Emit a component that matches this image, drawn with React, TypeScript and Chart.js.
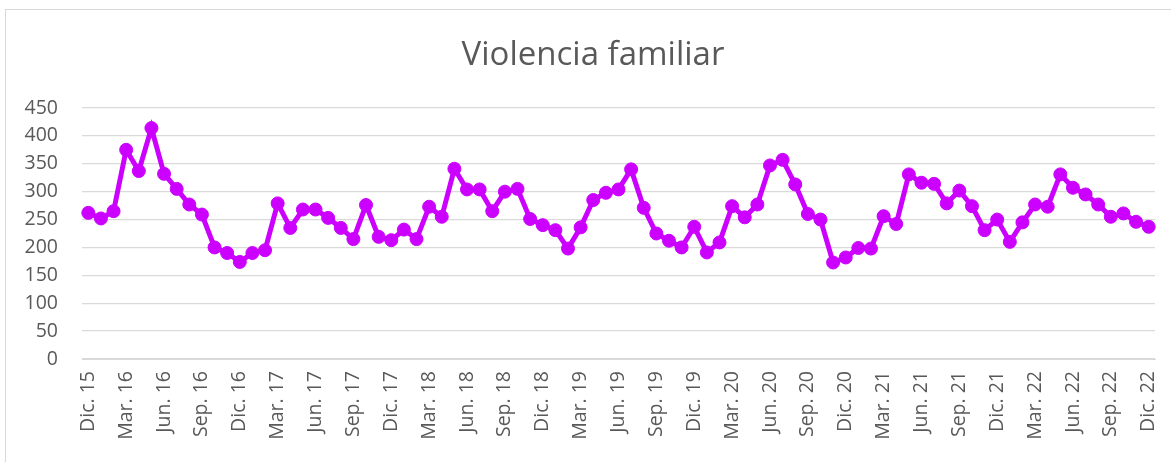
import React, { useEffect, useRef } from "react";
import { Chart, registerables } from "chart.js";

Chart.register(...registerables);

const TITLE = "Violencia familiar";

const LABELS: string[] = [
  "Dic. 15",
  "Ene. 16", "Feb. 16", "Mar. 16", "Abr. 16", "May. 16", "Jun. 16", "Jul. 16", "Ago. 16", "Sep. 16", "Oct. 16", "Nov. 16", "Dic. 16",
  "Ene. 17", "Feb. 17", "Mar. 17", "Abr. 17", "May. 17", "Jun. 17", "Jul. 17", "Ago. 17", "Sep. 17", "Oct. 17", "Nov. 17", "Dic. 17",
  "Ene. 18", "Feb. 18", "Mar. 18", "Abr. 18", "May. 18", "Jun. 18", "Jul. 18", "Ago. 18", "Sep. 18", "Oct. 18", "Nov. 18", "Dic. 18",
  "Ene. 19", "Feb. 19", "Mar. 19", "Abr. 19", "May. 19", "Jun. 19", "Jul. 19", "Ago. 19", "Sep. 19", "Oct. 19", "Nov. 19", "Dic. 19",
  "Ene. 20", "Feb. 20", "Mar. 20", "Abr. 20", "May. 20", "Jun. 20", "Jul. 20", "Ago. 20", "Sep. 20", "Oct. 20", "Nov. 20", "Dic. 20",
  "Ene. 21", "Feb. 21", "Mar. 21", "Abr. 21", "May. 21", "Jun. 21", "Jul. 21", "Ago. 21", "Sep. 21", "Oct. 21", "Nov. 21", "Dic. 21",
  "Ene. 22", "Feb. 22", "Mar. 22", "Abr. 22", "May. 22", "Jun. 22", "Jul. 22", "Ago. 22", "Sep. 22", "Oct. 22", "Nov. 22", "Dic. 22",
];

const VALUES: number[] = [
  262, 252, 265, 375, 337, 414, 332, 305, 277, 259,
  200, 190, 174, 190, 195, 279, 235, 268, 268, 253,
  235, 215, 276, 219, 213, 232, 215, 273, 255, 341,
  304, 304, 265, 300, 305, 251, 240, 231, 198, 236,
  285, 298, 304, 340, 271, 225, 212, 200, 237, 191,
  209, 274, 254, 277, 347, 357, 313, 260, 250, 173,
  182, 199, 198, 256, 242, 331, 316, 314, 279, 302,
  274, 231, 250, 210, 245, 277, 273, 331, 307, 295,
  277, 255, 261, 246, 237,
];

const Y_MIN = 0;
const Y_MAX = 450;
const Y_STEP = 50;

const LINE_COLOR = "#CC00FF";
const TEXT_COLOR = "#595959";
const GRID_COLOR = "#D9D9D9";
const FONT = "'Open Sans', 'Noto Sans', sans-serif";

// Title drawn centred on the (wider) chart frame, as in the reference
const titlePlugin = {
  id: "frameTitle",
  afterDraw(chart: any) {
    const ctx = chart.ctx;
    ctx.save();
    ctx.font = `normal 33px ${FONT}`;
    ctx.fillStyle = TEXT_COLOR;
    ctx.textAlign = "center";
    ctx.textBaseline = "alphabetic";
    ctx.fillText(TITLE, 593, 65);
    ctx.restore();
  },
};

export default function App() {
  const ref = useRef<HTMLCanvasElement | null>(null);

  useEffect(() => {
    if (!ref.current) return;
    const chart = new Chart(ref.current, {
      type: "line",
      data: {
        labels: LABELS,
        datasets: [
          {
            data: VALUES,
            borderColor: LINE_COLOR,
            backgroundColor: LINE_COLOR,
            borderWidth: 5,
            pointRadius: 6.5,
            pointBorderWidth: 1,
            pointBackgroundColor: LINE_COLOR,
            pointBorderColor: LINE_COLOR,
            tension: 0,
          },
        ],
      },
      options: {
        animation: false,
        responsive: false,
        maintainAspectRatio: false,
        layout: { padding: { left: 15, right: 16, top: 108, bottom: 0 } },
        plugins: {
          legend: { display: false },
          tooltip: { enabled: false },
          title: { display: false },
        },
        scales: {
          x: {
            type: "category",
            offset: true,
            grid: { display: false, drawTicks: false, offset: false },
            border: { display: true, color: GRID_COLOR, width: 1 },
            ticks: {
              autoSkip: false,
              maxRotation: 90,
              minRotation: 90,
              padding: 12,
              color: TEXT_COLOR,
              font: { family: FONT, size: 19.5 },
              callback: (_v: any, i: number) => (i % 3 === 0 ? LABELS[i] : ""),
            },
            afterFit: (s: any) => {
              s.paddingLeft = 0;
              s.paddingRight = 0;
              s.height = 103;
            },
          },
          y: {
            min: Y_MIN,
            max: Y_MAX,
            grid: { color: GRID_COLOR, lineWidth: 1.3, drawTicks: false },
            border: { display: false },
            ticks: {
              stepSize: Y_STEP,
              padding: 24,
              color: TEXT_COLOR,
              font: { family: FONT, size: 19.5 },
            },
            afterFit: (s: any) => {
              s.width = 67;
              s.paddingTop = 0;
              s.paddingBottom = 0;
            },
          },
        },
      },
      plugins: [titlePlugin],
    });
    return () => chart.destroy();
  }, []);

  return (
    <div
      style={{
        position: "fixed",
        left: 0,
        top: 0,
        width: 1171,
        height: 462,
        overflow: "hidden",
        background: "#fff",
      }}
    >
      <div
        style={{
          position: "absolute",
          left: 5,
          top: 9,
          width: 1300,
          height: 600,
          border: `1.3px solid ${GRID_COLOR}`,
        }}
      />
      <canvas
        ref={ref}
        width={1171}
        height={462}
        style={{ position: "absolute", left: 0, top: 0, width: 1171, height: 462 }}
      />
    </div>
  );
}
